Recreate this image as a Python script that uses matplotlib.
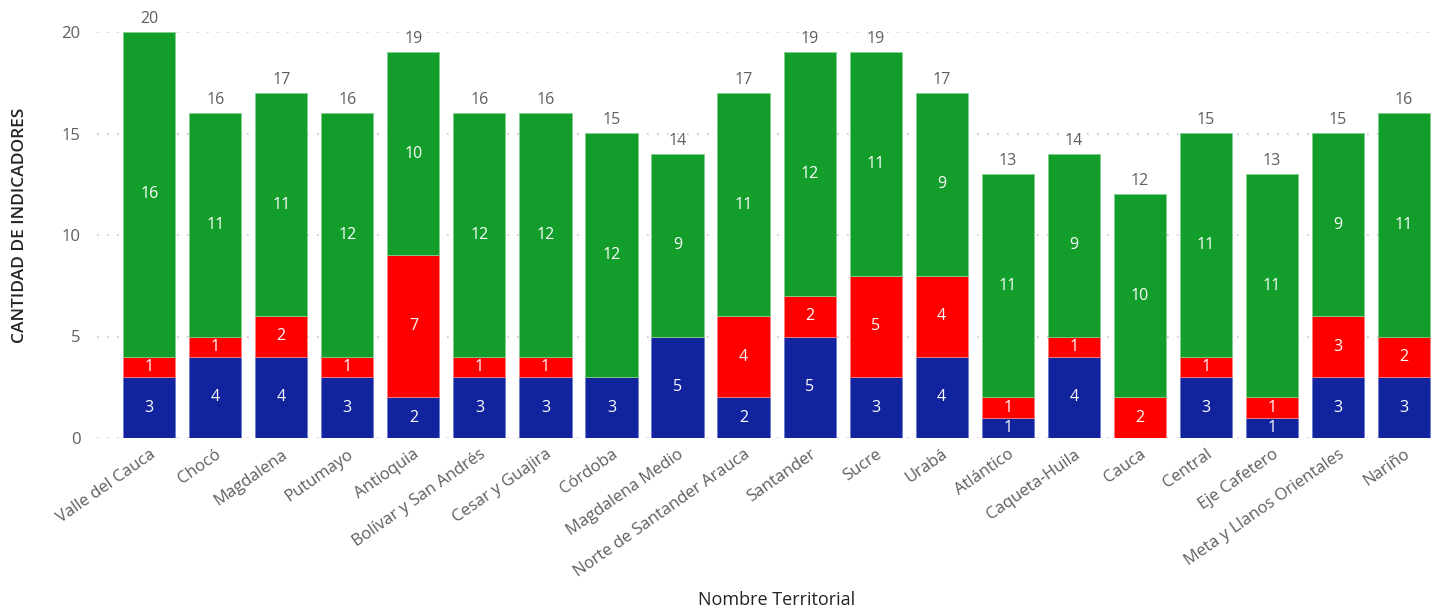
import numpy as np
import matplotlib.pyplot as plt

plt.rcParams['font.family'] = ['Open Sans', 'DejaVu Sans']

territorios = ['Valle del Cauca', 'Chocó', 'Magdalena', 'Putumayo', 'Antioquia',
               'Bolívar y San Andrés', 'Cesar y Guajira', 'Córdoba', 'Magdalena Medio',
               'Norte de Santander Arauca', 'Santander', 'Sucre', 'Urabá', 'Atlántico',
               'Caqueta-Huila', 'Cauca', 'Central', 'Eje Cafetero',
               'Meta y Llanos Orientales', 'Nariño']
azul = [3, 4, 4, 3, 2, 3, 3, 3, 5, 2, 5, 3, 4, 1, 4, 0, 3, 1, 3, 3]
rojo = [1, 1, 2, 1, 7, 1, 1, 0, 0, 4, 2, 5, 4, 1, 1, 2, 1, 1, 3, 2]
verde = [16, 11, 11, 12, 10, 12, 12, 12, 9, 11, 12, 11, 9, 11, 9, 10, 11, 11, 9, 11]

series = [(azul, '#12239E', '#6f7bd0'), (rojo, '#FF0000', '#ff8080'), (verde, '#139E2B', '#7fd08c')]

fig = plt.figure(figsize=(14.37, 6.11), dpi=100)
ax = fig.add_axes([97 / 1437, 1 - 438 / 611, 1340 / 1437, 406 / 611])

x = np.arange(len(territorios))
bottom = np.zeros(len(territorios))
for vals, color, edge in series:
    vals = np.array(vals)
    ax.bar(x, vals, width=0.79, bottom=bottom, color=color, edgecolor=edge,
           linewidth=0.6, zorder=3)
    for xi, b, v in zip(x, bottom, vals):
        if v > 0:
            ax.text(xi, b + v / 2, str(v), ha='center', va='center',
                    color='white', fontsize=11.5, zorder=4)
    bottom += vals

for xi, t in zip(x, bottom):
    ax.text(xi, t + 0.25, str(int(t)), ha='center', va='bottom',
            color='#605E5C', fontsize=11.5, clip_on=False)

ax.set_xlim(-0.79, 19.5)
ax.set_ylim(0, 20)
ax.set_yticks([0, 5, 10, 15, 20])
ax.grid(axis='y', linestyle=(0, (1, 5)), color='#c8c6c4', linewidth=1.2, zorder=0)
ax.set_axisbelow(True)
for s in ax.spines.values():
    s.set_visible(False)
ax.tick_params(axis='both', length=0, colors='#605E5C', labelsize=12)
ax.tick_params(axis='y', pad=12)
ax.tick_params(axis='x', pad=6)
ax.set_xticks(x)
ax.set_xticklabels(territorios, rotation=35, ha='right', rotation_mode='anchor')

ax.set_ylabel('CANTIDAD DE INDICADORES', fontsize=12.5, color='#252423',
              fontweight='semibold', va='center')
ax.yaxis.set_label_coords(-(97 - 20) / 1340, (438 - 225) / 406)
ax.set_xlabel('Nombre Territorial', fontsize=13, color='#252423', va='center')
ax.xaxis.set_label_coords((777 - 97) / 1340, -(600 - 438) / 406)

fig.savefig('out.png', dpi=100)
